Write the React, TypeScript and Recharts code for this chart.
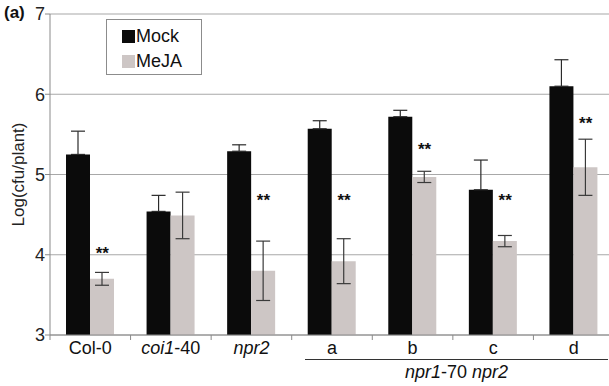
import React from "react";
import {
  ComposedChart,
  Bar,
  Scatter,
  XAxis,
  YAxis,
  CartesianGrid,
  ErrorBar,
} from "recharts";

const categories = ["Col-0", "coi1-40", "npr2", "a", "b", "c", "d"];
const mockValues = [5.25, 4.54, 5.29, 5.57, 5.72, 4.81, 6.1];
const mockErrors = [0.29, 0.2, 0.08, 0.1, 0.08, 0.37, 0.33];
const mejaValues = [3.7, 4.49, 3.8, 3.92, 4.97, 4.17, 5.09];
const mejaErrors = [0.08, 0.29, 0.37, 0.28, 0.07, 0.07, 0.35];
const starLevels: (number | null)[] = [4.04, null, 4.69, 4.69, 5.33, 4.69, 5.65];
const yTicks = [3, 4, 5, 6, 7];

const data = categories.map((c, i) => ({
  name: c,
  mock: mockValues[i],
  mockErr: mockErrors[i],
  meja: mejaValues[i],
  mejaErr: mejaErrors[i],
  star: starLevels[i],
}));

const FONT = "'Liberation Sans', Arial, sans-serif";
const GRAY = "#cdc6c5";
const BLACK = "#0b0b0b";

const italicParts: Record<string, [string, boolean][]> = {
  "Col-0": [["Col-0", false]],
  "coi1-40": [["coi1", true], ["-40", false]],
  npr2: [["npr2", true]],
};

const XTick = (props: any) => {
  const { x, y, payload, index } = props;
  const half = payload.offset || 40;
  const parts = italicParts[payload.value] || [[payload.value, false]];
  return (
    <g>
      <line x1={x - half} x2={x - half} y1={y - 8} y2={y - 3} stroke="#8a8a8a" />
      {index === categories.length - 1 ? (
        <line x1={x + half} x2={x + half} y1={y - 8} y2={y - 3} stroke="#8a8a8a" />
      ) : null}
      <text
        x={x}
        y={y + 11}
        textAnchor="middle"
        fontFamily={FONT}
        fontSize={18}
        fill="#111"
      >
        {parts.map(([t, it], k) => (
          <tspan key={k} fontStyle={it ? "italic" : "normal"}>
            {t}
          </tspan>
        ))}
      </text>
    </g>
  );
};

const StarShape = (props: any) => {
  const { cx, cy, payload } = props;
  if (payload.star == null || cx == null || cy == null) return <g />;
  return (
    <text
      x={cx + 12}
      y={cy + 7}
      textAnchor="middle"
      fontFamily={FONT}
      fontSize={17}
      fontWeight="bold"
      fill="#111"
    >
      **
    </text>
  );
};

// upper half only is visible over the black bar in the reference
const mockErrRange = (d: any) => [0, d.mockErr];

export default function App() {
  return (
    <div
      style={{
        position: "fixed",
        left: 0,
        top: 0,
        width: 609,
        height: 386,
        overflow: "hidden",
        background: "#fff",
      }}
    >
      <ComposedChart
        width={618}
        height={386}
        data={data}
        margin={{ top: 14, right: 4, bottom: 0, left: 0 }}
        barGap={0}
      >
        <CartesianGrid vertical={false} stroke="#a8a8a8" strokeWidth={1.2} />
        <XAxis
          dataKey="name"
          height={51}
          tick={<XTick />}
          tickLine={false}
          axisLine={{ stroke: "#8a8a8a" }}
          interval={0}
        />
        <YAxis
          domain={[3, 7]}
          ticks={yTicks}
          width={50}
          axisLine={{ stroke: "#8a8a8a" }}
          tickLine={{ stroke: "#8a8a8a" }}
          tickSize={5}
          tickMargin={0}
          tick={{ fontFamily: FONT, fontSize: 18, fill: "#222" }}
          label={{
            value: "Log(cfu/plant)",
            angle: -90,
            position: "insideLeft",
            offset: 18,
            dy: 0,
            style: { fontFamily: FONT, fontSize: 17, fill: "#222", textAnchor: "middle" },
          }}
        />
        <Bar dataKey="mock" fill={BLACK} barSize={24} isAnimationActive={false}>
          <ErrorBar dataKey={mockErrRange} width={7} stroke="#2a2a2a" strokeWidth={1.2} direction="y" />
        </Bar>
        <Bar dataKey="meja" fill={GRAY} barSize={24} isAnimationActive={false}>
          <ErrorBar dataKey="mejaErr" width={7} stroke="#3a3a3a" strokeWidth={1.2} direction="y" />
        </Bar>
        <Scatter dataKey="star" shape={<StarShape />} isAnimationActive={false} />
      </ComposedChart>

      <div
        style={{
          position: "absolute",
          left: 4,
          top: 3,
          fontFamily: FONT,
          fontSize: 17,
          fontWeight: "bold",
          color: "#111",
        }}
      >
        (a)
      </div>

      <div
        style={{
          position: "absolute",
          left: 106,
          top: 19,
          width: 96,
          height: 56,
          boxSizing: "border-box",
          border: "1px solid #8c8c8c",
          background: "#fff",
          fontFamily: FONT,
          fontSize: 18,
          color: "#111",
        }}
      >
        <div style={{ position: "absolute", left: 15, top: 6, display: "flex", alignItems: "center" }}>
          <span style={{ width: 13, height: 13, background: BLACK, display: "inline-block", marginRight: 1 }} />
          <span>Mock</span>
        </div>
        <div style={{ position: "absolute", left: 15, top: 31, display: "flex", alignItems: "center" }}>
          <span style={{ width: 13, height: 13, background: GRAY, display: "inline-block", marginRight: 1 }} />
          <span>MeJA</span>
        </div>
      </div>

      <div
        style={{
          position: "absolute",
          left: 305,
          top: 359,
          width: 303,
          height: 0,
          borderTop: "1.5px solid #333",
        }}
      />
      <div
        style={{
          position: "absolute",
          left: 305,
          top: 362,
          width: 303,
          textAlign: "center",
          fontFamily: FONT,
          fontSize: 18,
          color: "#111",
        }}
      >
        <i>npr1</i>-70 <i>npr2</i>
      </div>
    </div>
  );
}
